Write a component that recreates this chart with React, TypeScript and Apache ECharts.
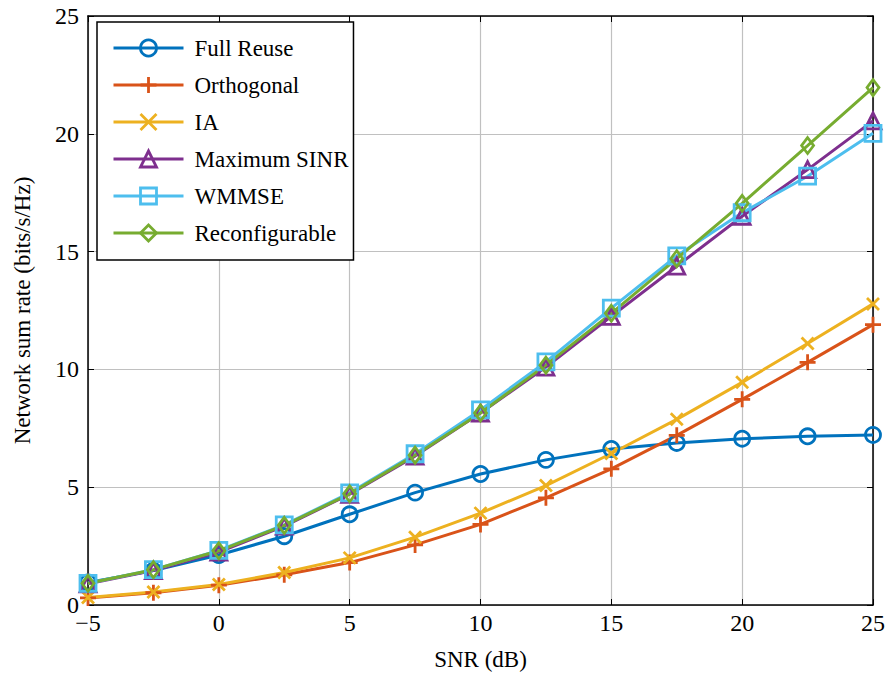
import React, { useEffect, useRef } from "react";
import * as echarts from "echarts";

const snr = [-5, -2.5, 0, 2.5, 5, 7.5, 10, 12.5, 15, 17.5, 20, 22.5, 25];
const fullReuse = [0.96, 1.46, 2.12, 2.92, 3.85, 4.77, 5.56, 6.16, 6.62, 6.88, 7.06, 7.16, 7.22];
const orthogonal = [0.3, 0.52, 0.84, 1.28, 1.8, 2.55, 3.42, 4.55, 5.78, 7.2, 8.73, 10.3, 11.9];
const ia = [0.32, 0.55, 0.87, 1.38, 2.0, 2.88, 3.9, 5.07, 6.43, 7.88, 9.45, 11.1, 12.78];
const maxSinr = [0.9, 1.46, 2.25, 3.35, 4.7, 6.32, 8.15, 10.1, 12.25, 14.38, 16.5, 18.48, 20.55];
const wmmse = [0.92, 1.5, 2.32, 3.4, 4.76, 6.42, 8.28, 10.32, 12.6, 14.82, 16.65, 18.2, 20.02];
const reconfigurable = [0.92, 1.5, 2.3, 3.38, 4.72, 6.36, 8.15, 10.18, 12.38, 14.7, 17.05, 19.5, 21.96];
const xTicks = [-5, 0, 5, 10, 15, 20, 25];
const yTicks = [0, 5, 10, 15, 20, 25];

const FONT = '"Liberation Serif", "Times New Roman", serif';

const PLUS = "path://M0,-1L0,1M-1,0L1,0";
const CROSS = "path://M-1,-1L1,1M-1,1L1,-1";

export default function App() {
  const ref = useRef<HTMLDivElement>(null);
  useEffect(() => {
    const chart = echarts.init(ref.current!, null, { renderer: "svg" });
    const mk = (name: string, data: number[], color: string, symbol: string, size: number | number[]) => ({
      name,
      type: "line",
      data: snr.map((x, i) => [x, data[i]]),
      symbol,
      symbolSize: size,
      showAllSymbol: true,
      lineStyle: { color, width: 3 },
      itemStyle: { color: "rgba(255,255,255,0)", borderColor: color, borderWidth: 2.8 },
      emphasis: { disabled: true },
    });
    const fmt = (v: number) => String(v).replace("-", "\u2212");
    chart.setOption({
      animation: false,
      backgroundColor: "#fff",
      grid: { left: 88, right: 18, top: 16, bottom: 70, outerBoundsMode: "none", containLabel: false },
      legend: {
        orient: "vertical",
        left: 97,
        top: 22,
        padding: [14, 5, 15, 15],
        borderColor: "#000",
        borderWidth: 1.5,
        backgroundColor: "#fff",
        itemWidth: 70,
        itemHeight: 20,
        itemGap: 13,
        lineStyle: { width: 3 },
        itemStyle: { borderWidth: 2.8 },
        textStyle: { fontFamily: FONT, fontSize: 23, color: "#000", lineHeight: 24, padding: [0, 0, 0, 6] },
        data: ["Full Reuse", "Orthogonal", "IA", "Maximum SINR", "WMMSE", "Reconfigurable"],
      },
      xAxis: [
        {
          type: "value",
          min: -5,
          max: 25,
          interval: 5,
          name: "SNR (dB)",
          nameLocation: "middle",
          nameGap: 43,
          nameTextStyle: { fontFamily: FONT, fontSize: 23, color: "#000" },
          axisLine: { onZero: false, lineStyle: { color: "#000", width: 1.5 } },
          axisTick: { inside: true, length: 6, lineStyle: { color: "#000", width: 1 } },
          axisLabel: { fontFamily: FONT, fontSize: 24, color: "#000", margin: 10, lineHeight: 16, formatter: fmt },
          splitLine: { show: true, lineStyle: { color: "#c0c0c0", width: 1.2 } },
        },
        {
          type: "value",
          position: "top",
          min: -5,
          max: 25,
          interval: 5,
          axisLine: { onZero: false, lineStyle: { color: "#000", width: 1.5 } },
          axisTick: { inside: true, length: 6, lineStyle: { color: "#000", width: 1 } },
          axisLabel: { show: false },
          splitLine: { show: false },
        },
      ],
      yAxis: [
        {
          type: "value",
          min: 0,
          max: 25,
          interval: 5,
          name: "Network sum rate (bits/s/Hz)",
          nameLocation: "middle",
          nameGap: 54,
          nameTextStyle: { fontFamily: FONT, fontSize: 23, color: "#000" },
          axisLine: { show: true, onZero: false, lineStyle: { color: "#000", width: 1.5 } },
          axisTick: { show: true, inside: true, length: 6, lineStyle: { color: "#000", width: 1 } },
          axisLabel: { fontFamily: FONT, fontSize: 24, color: "#000", margin: 9, lineHeight: 16 },
          splitLine: { show: true, lineStyle: { color: "#c0c0c0", width: 1.2 } },
        },
        {
          type: "value",
          position: "right",
          min: 0,
          max: 25,
          interval: 5,
          axisLine: { show: true, onZero: false, lineStyle: { color: "#000", width: 1.5 } },
          axisTick: { show: true, inside: true, length: 6, lineStyle: { color: "#000", width: 1 } },
          axisLabel: { show: false },
          splitLine: { show: false },
        },
      ],
      series: [
        mk("Full Reuse", fullReuse, "#0072BD", "circle", 15),
        mk("Orthogonal", orthogonal, "#D95319", PLUS, 16),
        mk("IA", ia, "#EDB120", CROSS, 12),
        mk("Maximum SINR", maxSinr, "#7E2F8E", "triangle", 16),
        mk("WMMSE", wmmse, "#4DBEEE", "rect", 16),
        mk("Reconfigurable", reconfigurable, "#77AC30", "diamond", [12, 16]),
      ],
    });
    return () => chart.dispose();
  }, []);
  return (
    <div
      ref={ref}
      style={{ position: "fixed", left: 0, top: 0, width: 891, height: 675, background: "#fff" }}
    />
  );
}
